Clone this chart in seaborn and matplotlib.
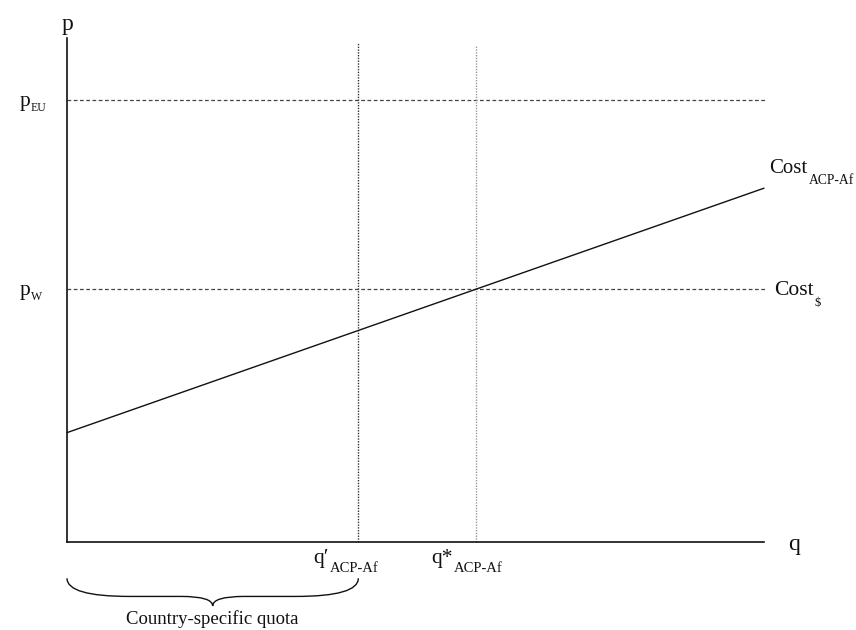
"""
Quota diagram: EU price, world price and ACP-Af cost curve
"""

import matplotlib

matplotlib.use("Agg")

import matplotlib.pyplot as plt
import seaborn as sns
import pandas as pd
import numpy as np
from matplotlib.path import Path
from matplotlib.patches import PathPatch

# =====================================
# Data (axis units 0..10)
# =====================================

price_names = ["p", "p"]
price_subs = ["EU", "W"]
price_levels = [8.77, 5.02]

quantity_names = ["q\u2032", "q*"]
quantity_subs = ["ACP-Af", "ACP-Af"]
quantity_levels = [4.18, 5.87]
quantity_tops = [9.90, 9.84]
quantity_colors = ["#333333", "#9a9a9a"]

cost_q = [0.0, 10.0]
cost_p = [2.17, 7.02]

quota_label = "Country-specific quota"

FONT = "Liberation Serif"

sns.set_theme(style="white")
plt.rcParams["font.family"] = [FONT, "DejaVu Serif"]

fig = plt.figure(figsize=(8.56, 6.30), dpi=100)

# axes box placed in pixel fractions of the figure
ax = fig.add_axes([67 / 856, 1 - 542 / 630, 697 / 856, 504 / 630])
ax.set_xlim(0, 10)
ax.set_ylim(0, 10)

for side in ["top", "right"]:
    ax.spines[side].set_visible(False)

for side in ["left", "bottom"]:
    ax.spines[side].set_color("#111111")
    ax.spines[side].set_linewidth(1.2)

ax.set_xticks([])
ax.set_yticks([])
ax.patch.set_alpha(0)


def label_with_sub(x, y, main, sub, size, sub_size, ha="left", dy=-3):
    """Main text with a subscript right after it"""
    t = ax.text(x, y, main, fontsize=size, ha=ha, va="baseline",
                color="#111111", clip_on=False)
    ax.annotate(sub, xy=(1, 0), xycoords=t, xytext=(0.5, dy),
                textcoords="offset points", fontsize=sub_size,
                ha="left", va="baseline", color="#111111",
                annotation_clip=False)
    return t


# Horizontal price lines
for name, sub, level in zip(price_names, price_subs, price_levels):
    ax.plot([0, 10.02], [level, level], linestyle=(0, (3, 2)),
            color="#444444", linewidth=0.9, clip_on=False)
    label_with_sub(-0.68, level - 0.12, name, sub, 15.5, 8.5, dy=0)

# Vertical quantity lines
for name, sub, level, top, col in zip(quantity_names, quantity_subs,
                                      quantity_levels, quantity_tops,
                                      quantity_colors):
    ax.plot([level, level], [0, top], linestyle=(0, (1, 1)),
            color=col, linewidth=1.0, clip_on=False)
    label_with_sub(level - 0.64, -0.42, name, sub, 15.5, 10.5, dy=-2.5)

# Cost curve
cost_df = pd.DataFrame({"q": cost_q, "p": cost_p})
sns.lineplot(data=cost_df, x="q", y="p", color="#111111",
             linewidth=1.0, ax=ax, clip_on=False)
ax.set_xlabel("")
ax.set_ylabel("")

# the right label is squeezed a little so it stays inside the figure
label_with_sub(10.08, cost_p[-1] + 0.3, "Cost", "ACP-Af", 15, 9.8, dy=-4)
label_with_sub(10.15, price_levels[1] - 0.12, "Cost", "$", 15.5, 9, dy=-4)

# Axis names
ax.text(0, 10.05, "p", fontsize=17, ha="center", va="bottom",
        color="#111111", clip_on=False)
ax.text(10.35, -0.05, "q", fontsize=17, ha="left", va="center",
        color="#111111", clip_on=False)

# Brace under the quota
x0 = 0.0
x1 = quantity_levels[0]
xm = (x0 + x1) / 2
y_top = -0.72
y_mid = -1.08
y_tip = -1.27
r = 0.45
verts = [
    (x0, y_top), (x0, y_mid), (x0 + r * 2, y_mid),
    (xm - r, y_mid), (xm, y_mid), (xm, y_tip),
    (xm, y_mid), (xm + r, y_mid),
    (x1 - r * 2, y_mid), (x1, y_mid), (x1, y_top),
]
codes = [
    Path.MOVETO, Path.CURVE3, Path.CURVE3,
    Path.LINETO, Path.CURVE3, Path.CURVE3,
    Path.CURVE3, Path.CURVE3,
    Path.LINETO, Path.CURVE3, Path.CURVE3,
]
brace = PathPatch(Path(verts, codes), facecolor="none",
                  edgecolor="#111111", linewidth=1.0, clip_on=False)
ax.add_patch(brace)

ax.text(xm, -1.36, quota_label, fontsize=13.5, ha="center", va="top",
        color="#111111", clip_on=False)

fig.savefig("out.png", dpi=100)
plt.close(fig)
print("Saved.")
